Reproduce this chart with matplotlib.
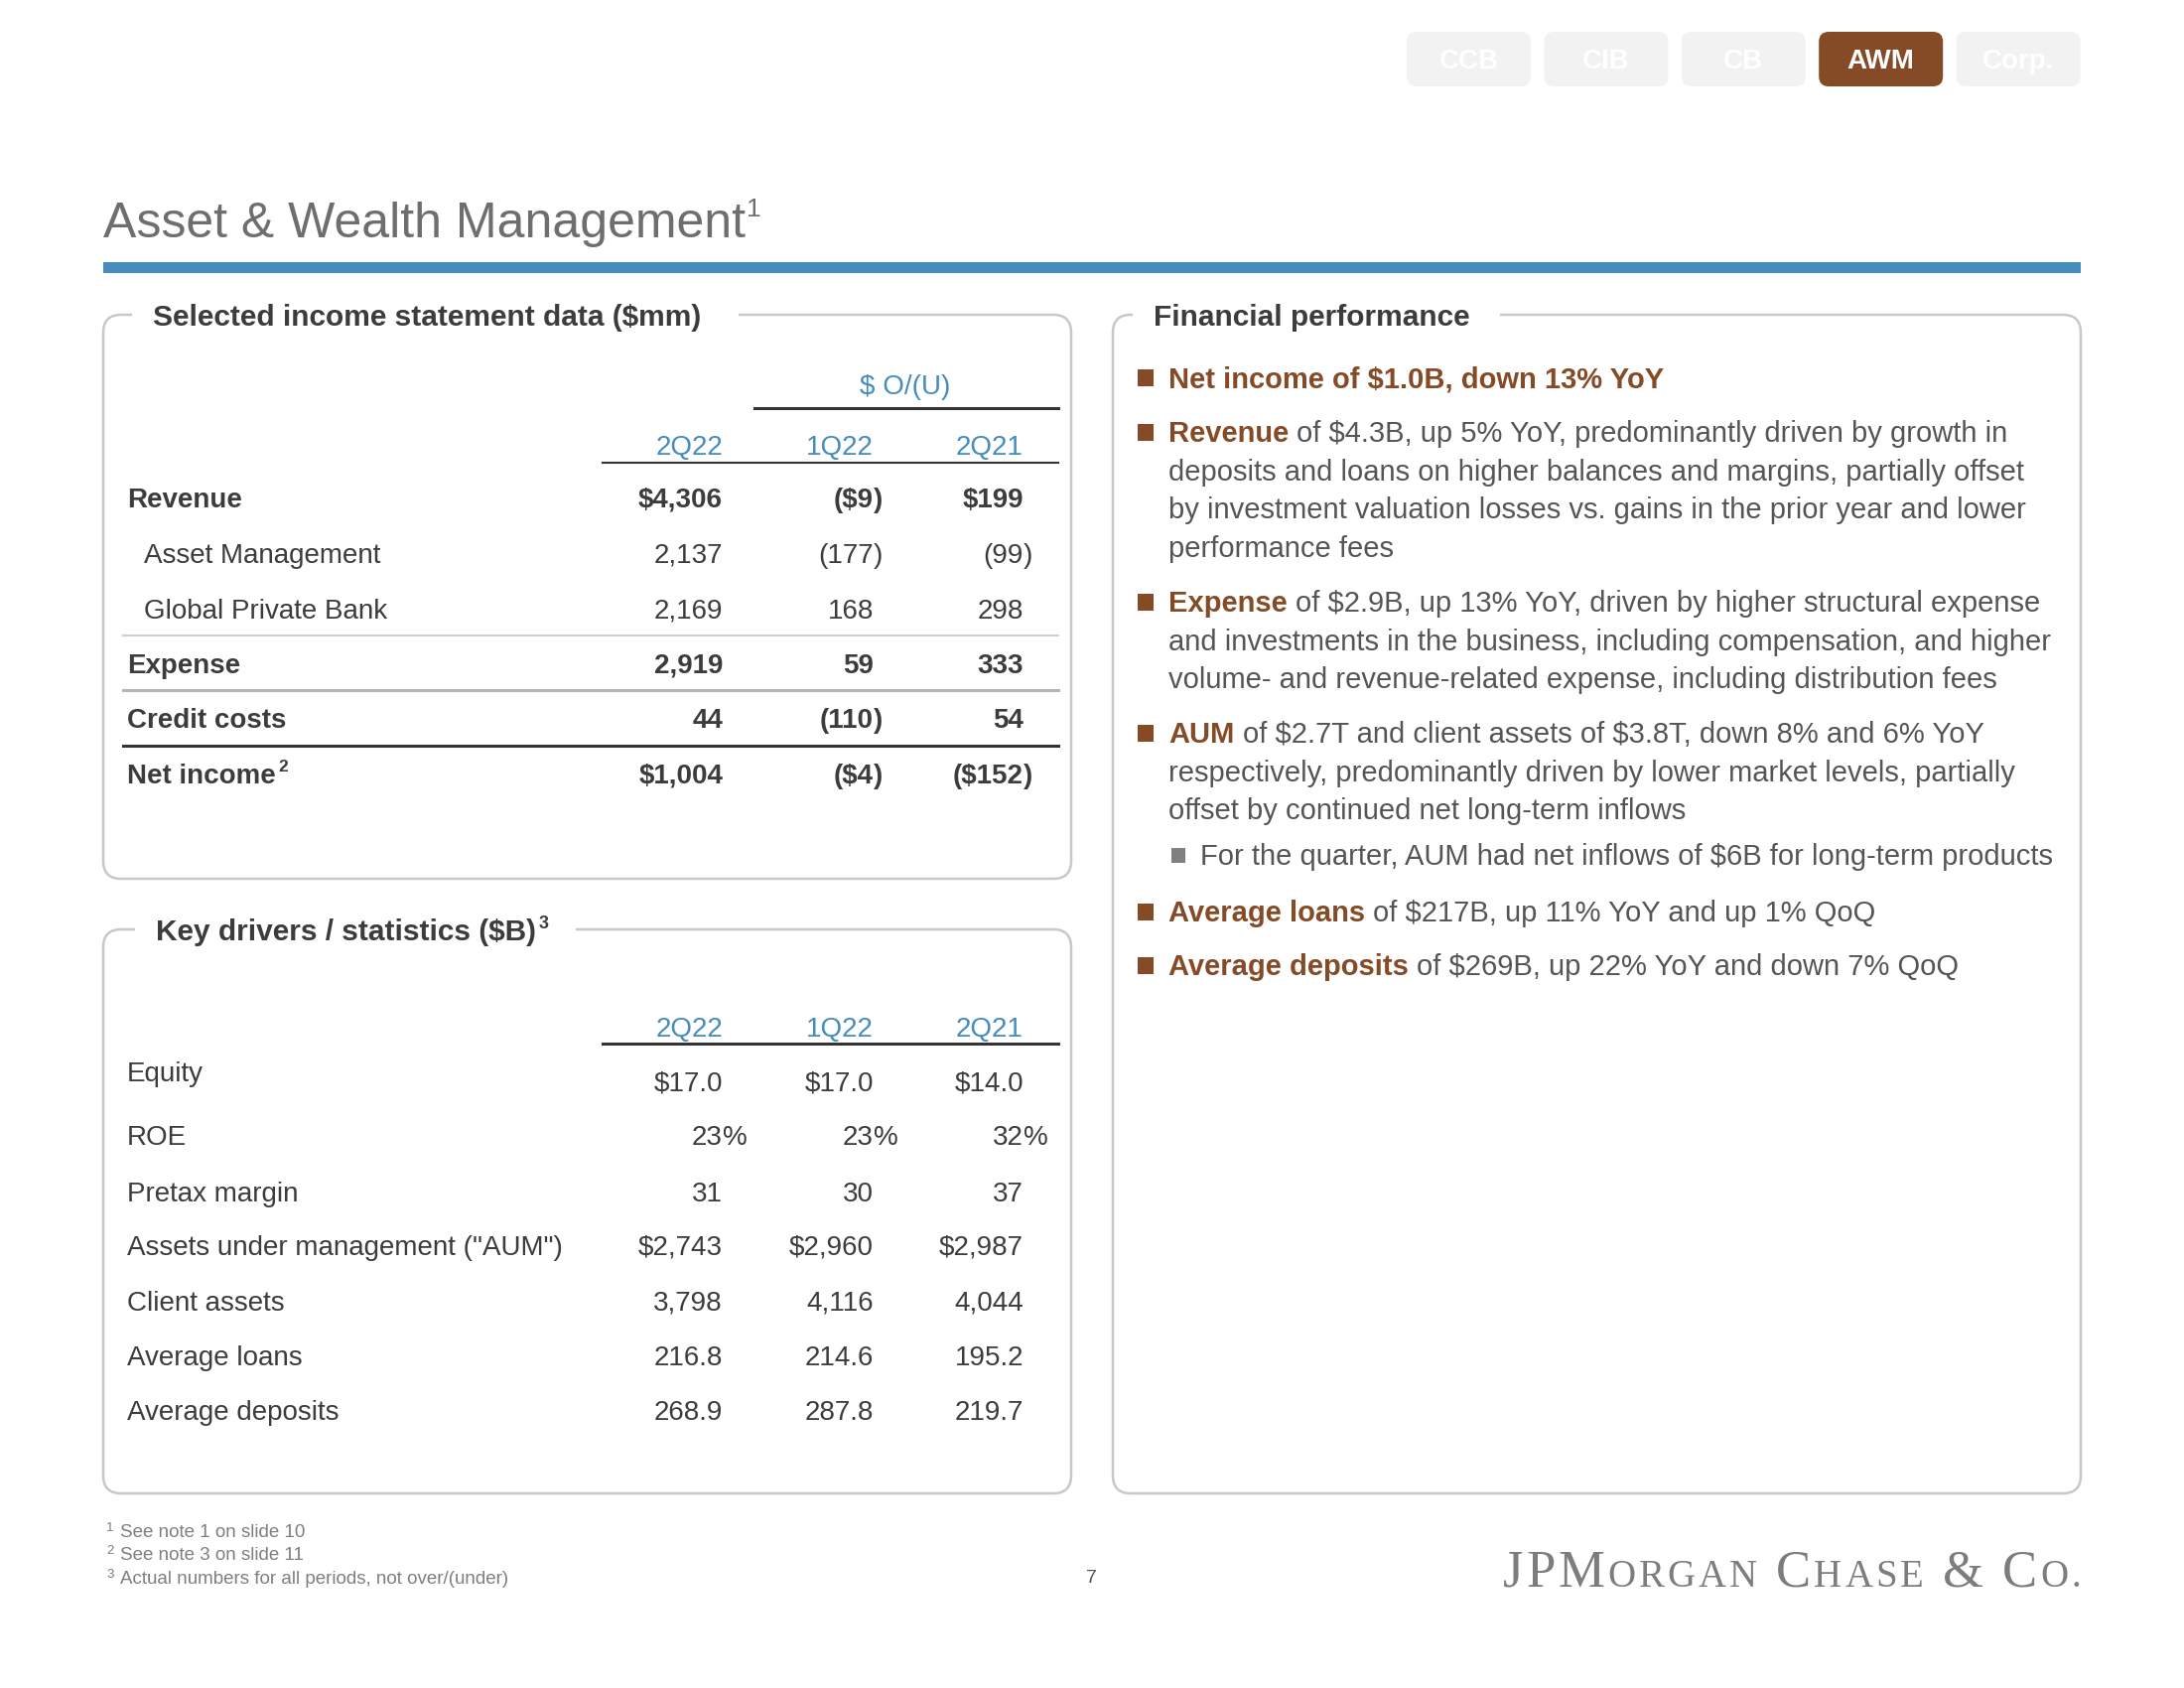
import matplotlib
matplotlib.use("Agg")
import matplotlib.pyplot as plt
from matplotlib.patches import FancyBboxPatch, Rectangle

plt.rcParams['font.family'] = ['Liberation Sans', 'DejaVu Sans']

# %%
# Data

tabs = ["CCB", "CIB", "CB", "AWM", "Corp."]
active_tab = "AWM"

periods = ["2Q22", "1Q22", "2Q21"]

income_labels = ["Revenue", "Asset Management", "Global Private Bank",
                 "Expense", "Credit costs", "Net income"]
income_sup = ["", "", "", "", "", "2"]
income_bold = [True, False, False, True, True, True]
income_indent = [False, True, True, False, False, False]
income_dollar = [True, False, False, False, False, True]
income_2q22 = [4306, 2137, 2169, 2919, 44, 1004]
income_vs_1q22 = [-9, -177, 168, 59, -110, -4]
income_vs_2q21 = [199, -99, 298, 333, 54, -152]

stats_labels = ["Equity", "ROE", "Pretax margin", 'Assets under management ("AUM")',
                "Client assets", "Average loans", "Average deposits"]
stats_kind = ["$.1f", "%", "int", "$int", "int", ".1f", ".1f"]
stats_2q22 = [17.0, 23, 31, 2743, 3798, 216.8, 268.9]
stats_1q22 = [17.0, 23, 30, 2960, 4116, 214.6, 287.8]
stats_2q21 = [14.0, 32, 37, 2987, 4044, 195.2, 219.7]

bullets = [
    ("Net income of $1.0B, down 13% YoY", []),
    ("Revenue", ["of $4.3B, up 5% YoY, predominantly driven by growth in",
                 "deposits and loans on higher balances and margins, partially offset",
                 "by investment valuation losses vs. gains in the prior year and lower",
                 "performance fees"]),
    ("Expense", ["of $2.9B, up 13% YoY, driven by higher structural expense",
                 "and investments in the business, including compensation, and higher",
                 "volume- and revenue-related expense, including distribution fees"]),
    ("AUM", ["of $2.7T and client assets of $3.8T, down 8% and 6% YoY",
             "respectively, predominantly driven by lower market levels, partially",
             "offset by continued net long-term inflows"]),
    ("", ["For the quarter, AUM had net inflows of $6B for long-term products"]),
    ("Average loans", ["of $217B, up 11% YoY and up 1% QoQ"]),
    ("Average deposits", ["of $269B, up 22% YoY and down 7% QoQ"]),
]

footnotes = ["See note 1 on slide 10", "See note 3 on slide 11",
             "Actual numbers for all periods, not over/(under)"]

# %%
# Colours
BLUE = '#468cbe'
BROWN = '#854b27'
TAB_GREY = '#f2f2f2'
BORDER = '#c8c8c8'
DARK = '#3c3c3c'
BODY = '#555555'
TITLE_GREY = '#6e6e6e'


def fmt_mm(v, dollar):
    s = f"{abs(v):,}"
    if dollar:
        s = "$" + s
    if v < 0:
        return "(" + s, ")"
    return s, ""


def fmt_stat(v, kind):
    if kind == "$.1f":
        return f"${v:.1f}", ""
    if kind == "%":
        return f"{v:.0f}", "%"
    if kind == "$int":
        return f"${v:,.0f}", ""
    if kind == "int":
        return f"{v:,.0f}", ""
    return f"{v:.1f}", ""


fig = plt.figure(figsize=(22, 17), dpi=100)
ax = fig.add_axes([0, 0, 1, 1])
ax.set_xlim(0, 2200)
ax.set_ylim(1700, 0)
ax.axis('off')
renderer = fig.canvas.get_renderer()


def txt(x, y, s, size, **kw):
    # y is the visual centre of the capitals
    base = y + 0.358 * size * 100 / 72
    return ax.text(x, base, s, fontsize=size, va='baseline', parse_math=False, **kw)


def width_of(t):
    return t.get_window_extent(renderer=renderer).width


# %%
# Tabs
for i, name in enumerate(tabs):
    x0 = 1417 + i * 138.4
    on = name == active_tab
    ax.add_patch(FancyBboxPatch((x0, 32), 125, 55,
                                boxstyle="round,pad=0,rounding_size=10",
                                fc=BROWN if on else TAB_GREY, ec='none'))
    txt(x0 + 62.5, 59.5, name, 20, ha='center', color='white', fontweight='bold')

# Title + blue rule
t = txt(104, 221, "Asset & Wealth Management", 36, color=TITLE_GREY)
txt(104 + width_of(t) + 1, 209, "1", 19, color=TITLE_GREY)
ax.add_patch(Rectangle((104, 264), 1992, 11, fc=BLUE, ec='none'))


# %%
# Panels
def panel(x0, y0, x1, y1, title, sup, gap):
    ax.add_patch(FancyBboxPatch((x0, y0), x1 - x0, y1 - y0,
                                boxstyle="round,pad=0,rounding_size=18",
                                fc='none', ec=BORDER, lw=1.8))
    ax.add_patch(Rectangle((gap[0], y0 - 6), gap[1] - gap[0], 12, fc='white', ec='none', zorder=3))
    t = txt(gap[0] + 21, y0, title, 21.5, color=DARK, fontweight='bold', zorder=4)
    if sup:
        txt(gap[0] + 21 + width_of(t) + 3, y0 - 7, sup, 13, color=DARK, fontweight='bold', zorder=4)


panel(104, 317, 1079, 885, "Selected income statement data ($mm)", "", (133, 744))
panel(104, 936, 1079, 1504, "Key drivers / statistics ($B)", "3", (136, 580))
panel(1121, 317, 2096, 1504, "Financial performance", "", (1141, 1511))

col_x = [728, 880, 1031]
FS = 20

# Top table
txt(912, 387, "$ O/(U)", FS, ha='center', color=BLUE)
ax.plot([760, 1066], [411, 411], color='#333333', lw=2.2)
for cx, p in zip(col_x, periods):
    txt(cx, 448, p, FS, ha='right', color=BLUE)
ax.plot([607, 1066], [466, 466], color='#333333', lw=1.5)

row_y = [501, 557, 613, 668, 723, 779]
for i, label in enumerate(income_labels):
    w = 'bold' if income_bold[i] else 'normal'
    lx = 145 if income_indent[i] else 128
    t = txt(lx, row_y[i], label, FS, color=DARK, fontweight=w)
    if income_sup[i]:
        txt(lx + width_of(t) + 3, row_y[i] - 8, income_sup[i], 12.5, color=DARK, fontweight=w)
    vals = [income_2q22[i], income_vs_1q22[i], income_vs_2q21[i]]
    for cx, v in zip(col_x, vals):
        main, hang = fmt_mm(v, income_dollar[i])
        txt(cx, row_y[i], main, FS, ha='right', color=DARK, fontweight=w)
        if hang:
            txt(cx, row_y[i], hang, FS, ha='left', color=DARK, fontweight=w)

ax.plot([124, 1066], [640, 640], color='#cfcfcf', lw=1.5)
ax.plot([124, 1066], [695, 695], color='#b5b5b5', lw=2.2)
ax.plot([124, 1066], [751, 751], color='#333333', lw=2.2)

# Bottom table
for cx, p in zip(col_x, periods):
    txt(cx, 1034, p, FS, ha='right', color=BLUE)
ax.plot([607, 1066], [1051, 1051], color='#333333', lw=2.2)

stats_y = [1089, 1143, 1200, 1254, 1310, 1365, 1420]
label_dy = [-10, 0, 0, 0, 0, 0, 0]
for i, label in enumerate(stats_labels):
    txt(128, stats_y[i] + label_dy[i], label, FS, color=DARK)
    vals = [stats_2q22[i], stats_1q22[i], stats_2q21[i]]
    for cx, v in zip(col_x, vals):
        main, hang = fmt_stat(v, stats_kind[i])
        txt(cx, stats_y[i], main, FS, ha='right', color=DARK)
        if hang:
            txt(cx, stats_y[i], hang, FS, ha='left', color=DARK)

# %%
# Right panel bullets
BFS = 21
line_h = 38.5
bullet_y = [380, 435, 606, 738, 861, 918, 972]
for (lead, lines), by in zip(bullets, bullet_y):
    if lead:
        ax.add_patch(Rectangle((1146, by - 8.5), 16, 17, fc=BROWN, ec='none'))
        t = txt(1177, by, lead, BFS, color=BROWN, fontweight='bold')
        x_rest = 1177 + width_of(t) + 0.28 * BFS * 100 / 72
        for k, line in enumerate(lines):
            x = x_rest if k == 0 else 1177
            txt(x, by + k * line_h, line, BFS, color=BODY)
    else:
        ax.add_patch(Rectangle((1180, by - 7.5), 14, 15, fc='#808080', ec='none'))
        txt(1209, by, lines[0], BFS, color=BODY)

# %%
# Footnotes, page number, logo
for k, note in enumerate(footnotes):
    y = 1541 + k * 23.5
    txt(107, y - 4, str(k + 1), 9.5, color='#7f7f7f')
    txt(121, y, note, 13.5, color='#7f7f7f')

txt(1099, 1587, "7", 14, ha='center', color=BODY)

# small-caps wordmark, set letter by letter with a little tracking
logo = [("JPM", 38), ("ORGAN", 28), (" C", 38), ("HASE", 28), (" & C", 38), ("O.", 28)]
track = 3
glyphs = []
for s, size in logo:
    for ch in s:
        g = ax.text(0, 1598, ch, fontsize=size, va='baseline', ha='left',
                    family=['Liberation Serif', 'DejaVu Serif'], color='#7d7d7d')
        w = width_of(g) if ch != ' ' else 0.25 * size * 100 / 72
        glyphs.append((g, w))
total = sum(w for _, w in glyphs) + track * (len(glyphs) - 1)
x = 2096 - total
for g, w in glyphs:
    g.set_x(x)
    x += w + track

fig.savefig("out.png", dpi=100)
